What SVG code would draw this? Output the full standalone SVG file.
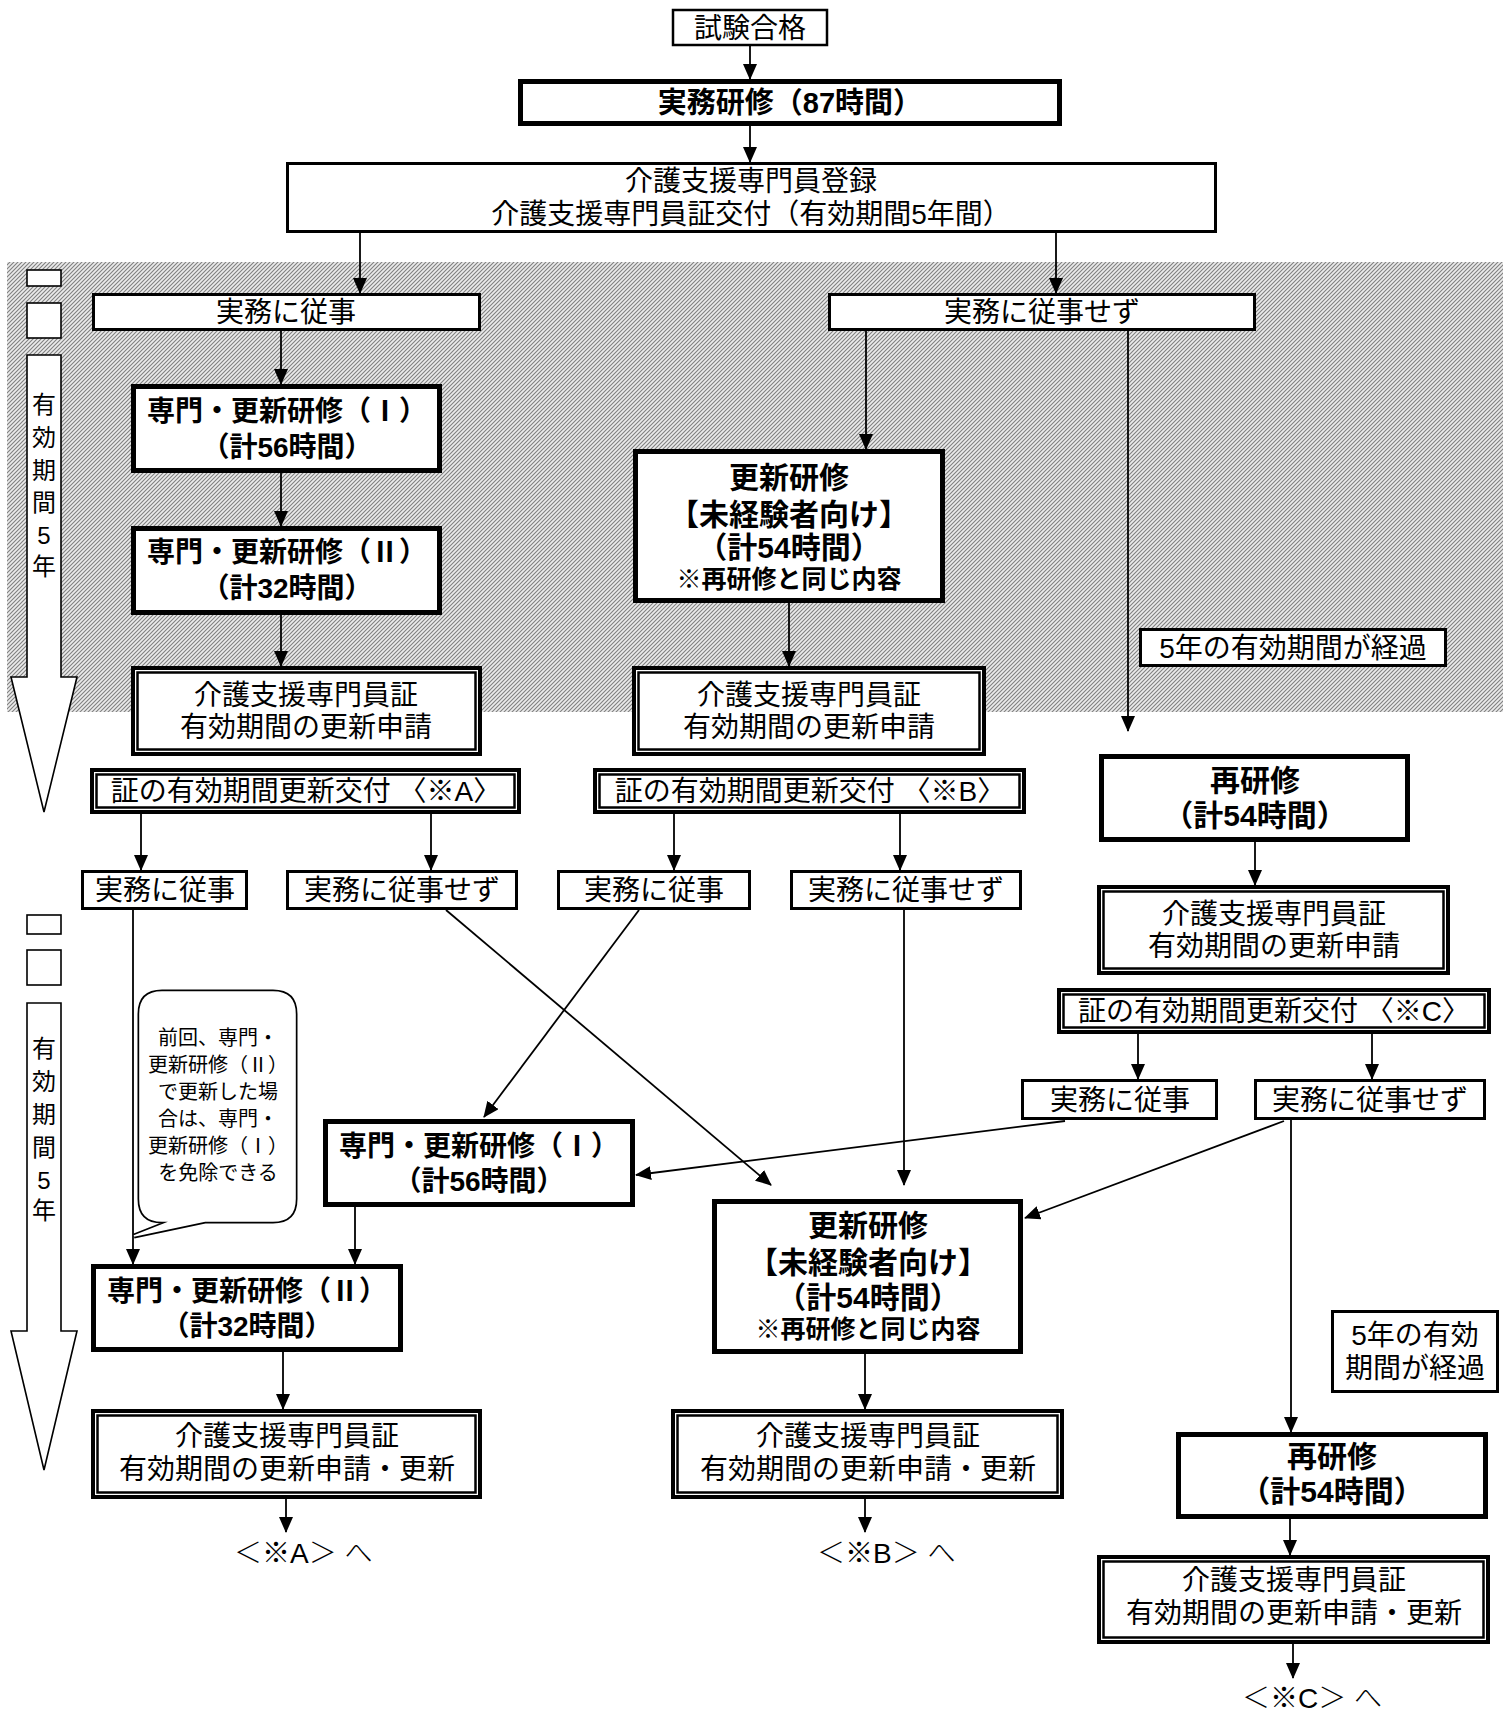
<svg xmlns="http://www.w3.org/2000/svg" width="1505" height="1713" viewBox="0 0 1505 1713">
<defs>
<pattern id="hatch" width="4" height="4" patternUnits="userSpaceOnUse">
<rect width="4" height="4" fill="#ebebeb"/>
<path d="M-1,1 L1,-1 M0,4 L4,0 M3,5 L5,3" stroke="#808080" stroke-width="1.1"/>
</pattern>
<marker id="ah" markerUnits="userSpaceOnUse" viewBox="0 0 16 14" markerWidth="16" markerHeight="14" refX="15" refY="7" orient="auto">
<path d="M0,0 L16,7 L0,14 z" fill="#000"/>
</marker>
<style>
.thin{fill:#fff;stroke:#000;stroke-width:3}
.thick{fill:#fff;stroke:#000;stroke-width:5}
.dblo{fill:#fff;stroke:#000;stroke-width:4}
.dbli{fill:none;stroke:#000;stroke-width:2.5}
.small{fill:#fff;stroke:#000;stroke-width:1.6}
text{font-family:"Liberation Sans","Noto Sans CJK JP",sans-serif;fill:#000}
.t{font-size:28px;text-anchor:middle}
.b{font-weight:bold}
.conn line{stroke:#000;stroke-width:1.8;marker-end:url(#ah)}
.vt{font-size:24px;text-anchor:middle}
.bt{font-size:20px;text-anchor:middle}
.lt{font-size:28px;font-weight:300}
.rn{font-family:"Noto Sans CJK JP",sans-serif}
</style>
</defs>
<rect width="1505" height="1713" fill="#fff"/>
<g id="period-band">
<rect x="7" y="262" width="1496" height="450" fill="url(#hatch)"/>
</g>
<g id="period-arrow-1">
<rect class="small" x="27" y="270" width="34" height="16"/>
<rect class="small" x="27" y="303" width="34" height="35"/>
<polygon points="27,355 61,355 61,677 77,677 44,812 11,677 27,677" fill="#fff" stroke="#000" stroke-width="1.6"/>
<text class="vt"><tspan x="44" y="413">有</tspan><tspan x="44" y="446">効</tspan><tspan x="44" y="479">期</tspan><tspan x="44" y="511">間</tspan><tspan x="44" y="544">5</tspan><tspan x="44" y="575">年</tspan></text>
</g>
<g id="period-arrow-2">
<rect class="small" x="27" y="915" width="34" height="19"/>
<rect class="small" x="27" y="950" width="34" height="35"/>
<polygon points="27,1003 61,1003 61,1331 77,1331 44,1470 11,1331 27,1331" fill="#fff" stroke="#000" stroke-width="1.6"/>
<text class="vt"><tspan x="44" y="1057">有</tspan><tspan x="44" y="1090">効</tspan><tspan x="44" y="1123">期</tspan><tspan x="44" y="1156">間</tspan><tspan x="44" y="1189">5</tspan><tspan x="44" y="1219">年</tspan></text>
</g>
<g id="connectors" class="conn">
<line x1="750" y1="46" x2="750" y2="79"/>
<line x1="750" y1="126" x2="750" y2="162"/>
<line x1="360" y1="233" x2="360" y2="293"/>
<line x1="1056" y1="233" x2="1056" y2="293"/>
<line x1="281" y1="331" x2="281" y2="384"/>
<line x1="281" y1="473" x2="281" y2="526"/>
<line x1="281" y1="615" x2="281" y2="666"/>
<line x1="866" y1="331" x2="866" y2="449"/>
<line x1="789" y1="603" x2="789" y2="666"/>
<line x1="1128" y1="331" x2="1128" y2="731"/>
<line x1="141" y1="814" x2="141" y2="870"/>
<line x1="431" y1="814" x2="431" y2="870"/>
<line x1="674" y1="814" x2="674" y2="870"/>
<line x1="900" y1="814" x2="900" y2="870"/>
<line x1="1255" y1="842" x2="1255" y2="885"/>
<line x1="1138" y1="1034" x2="1138" y2="1079"/>
<line x1="1372" y1="1034" x2="1372" y2="1079"/>
<line x1="133" y1="910" x2="133" y2="1264"/>
<line x1="446" y1="910" x2="771" y2="1185"/>
<line x1="639" y1="910" x2="484" y2="1117"/>
<line x1="904" y1="910" x2="904" y2="1185"/>
<line x1="1065" y1="1121" x2="636" y2="1175"/>
<line x1="1284" y1="1121" x2="1025" y2="1218"/>
<line x1="1291" y1="1120" x2="1291" y2="1432"/>
<line x1="355" y1="1207" x2="355" y2="1264"/>
<line x1="283" y1="1352" x2="283" y2="1409"/>
<line x1="286" y1="1499" x2="286" y2="1532"/>
<line x1="865" y1="1354" x2="865" y2="1409"/>
<line x1="865" y1="1499" x2="865" y2="1532"/>
<line x1="1290" y1="1519" x2="1290" y2="1555"/>
<line x1="1293" y1="1644" x2="1293" y2="1678"/>
</g>
<g id="n-pass">
<rect x="673" y="10" width="154" height="35" fill="#fff" stroke="#000" stroke-width="2.5"/>
<text class="t" x="750" y="38">試験合格</text>
</g>
<g id="n-practical-training">
<rect class="thick" x="520.5" y="81.5" width="539" height="42"/>
<text class="t b" x="790" y="113" style="font-size:29px">実務研修（87時間）</text>
</g>
<g id="n-registration">
<rect class="thin" x="287.5" y="163.5" width="928" height="68"/>
<text class="t" x="751" y="191">介護支援専門員登録</text>
<text class="t" x="751" y="224">介護支援専門員証交付（有効期間5年間）</text>
</g>
<g id="n-engaged-1">
<rect class="thin" x="93.5" y="294.5" width="386" height="35"/>
<text class="t" x="286" y="322">実務に従事</text>
</g>
<g id="n-not-engaged-1">
<rect class="thin" x="829.5" y="294.5" width="425" height="35"/>
<text class="t" x="1042" y="322">実務に従事せず</text>
</g>
<g id="n-senmon1-a">
<rect class="thick" x="133.5" y="386.5" width="306" height="84"/>
<text class="t b" x="287" y="421">専門・更新研修（<tspan class="rn">Ⅰ</tspan>）</text>
<text class="t b" x="287" y="457">（計56時間）</text>
</g>
<g id="n-senmon2-a">
<rect class="thick" x="133.5" y="528.5" width="306" height="84"/>
<text class="t b" x="287" y="562">専門・更新研修（<tspan class="rn">Ⅱ</tspan>）</text>
<text class="t b" x="287" y="598">（計32時間）</text>
</g>
<g id="n-apply-a">
<rect class="dblo" x="133" y="668" width="347" height="86"/>
<rect class="dbli" x="137.5" y="672.5" width="338" height="77"/>
<text class="t" x="306" y="705">介護支援専門員証</text>
<text class="t" x="306" y="737">有効期間の更新申請</text>
</g>
<g id="n-issue-a">
<rect class="dblo" x="92" y="770" width="427" height="42"/>
<rect class="dbli" x="96.5" y="774.5" width="418" height="33"/>
<text class="t" x="306" y="801">証の有効期間更新交付 〈※A〉</text>
</g>
<g id="n-engaged-a">
<rect class="thin" x="82.5" y="871.5" width="164" height="37"/>
<text class="t" x="165" y="900">実務に従事</text>
</g>
<g id="n-not-engaged-a">
<rect class="thin" x="287.5" y="871.5" width="229" height="37"/>
<text class="t" x="402" y="900">実務に従事せず</text>
</g>
<g id="n-koushin-b">
<rect class="thick" x="635.5" y="451.5" width="307" height="149"/>
<text class="t b" x="789" y="488" style="font-size:30px">更新研修</text>
<text class="t b" x="789" y="525" style="font-size:30px">【未経験者向け】</text>
<text class="t b" x="789" y="558" style="font-size:30px">（計54時間）</text>
<text class="t b" x="789" y="588" style="font-size:25px">※再研修と同じ内容</text>
</g>
<g id="n-apply-b">
<rect class="dblo" x="634" y="668" width="350" height="86"/>
<rect class="dbli" x="638.5" y="672.5" width="341" height="77"/>
<text class="t" x="809" y="705">介護支援専門員証</text>
<text class="t" x="809" y="737">有効期間の更新申請</text>
</g>
<g id="n-issue-b">
<rect class="dblo" x="595" y="770" width="429" height="42"/>
<rect class="dbli" x="599.5" y="774.5" width="420" height="33"/>
<text class="t" x="810" y="801">証の有効期間更新交付 〈※B〉</text>
</g>
<g id="n-engaged-b">
<rect class="thin" x="558.5" y="871.5" width="191" height="37"/>
<text class="t" x="654" y="900">実務に従事</text>
</g>
<g id="n-not-engaged-b">
<rect class="thin" x="791.5" y="871.5" width="229" height="37"/>
<text class="t" x="906" y="900">実務に従事せず</text>
</g>
<g id="n-expired-1">
<rect class="thin" x="1140.5" y="629.5" width="305" height="36"/>
<text class="t" x="1293" y="658">5年の有効期間が経過</text>
</g>
<g id="n-retraining-c">
<rect class="thick" x="1101.5" y="756.5" width="306" height="83"/>
<text class="t b" x="1255" y="791" style="font-size:30px">再研修</text>
<text class="t b" x="1255" y="826" style="font-size:30px">（計54時間）</text>
</g>
<g id="n-apply-c">
<rect class="dblo" x="1099" y="887" width="349" height="86"/>
<rect class="dbli" x="1103.5" y="891.5" width="340" height="77"/>
<text class="t" x="1274" y="924">介護支援専門員証</text>
<text class="t" x="1274" y="956">有効期間の更新申請</text>
</g>
<g id="n-issue-c">
<rect class="dblo" x="1059" y="990" width="430" height="42"/>
<rect class="dbli" x="1063.5" y="994.5" width="421" height="33"/>
<text class="t" x="1274" y="1021">証の有効期間更新交付 〈※C〉</text>
</g>
<g id="n-engaged-c">
<rect class="thin" x="1022.5" y="1080.5" width="194" height="38"/>
<text class="t" x="1120" y="1110">実務に従事</text>
</g>
<g id="n-not-engaged-c">
<rect class="thin" x="1255.5" y="1080.5" width="229" height="38"/>
<text class="t" x="1370" y="1110">実務に従事せず</text>
</g>
<g id="n-senmon1-2">
<rect class="thick" x="325.5" y="1121.5" width="307" height="83"/>
<text class="t b" x="479" y="1156">専門・更新研修（<tspan class="rn">Ⅰ</tspan>）</text>
<text class="t b" x="479" y="1191">（計56時間）</text>
</g>
<g id="n-koushin-2">
<rect class="thick" x="714.5" y="1201.5" width="306" height="150"/>
<text class="t b" x="868" y="1236" style="font-size:30px">更新研修</text>
<text class="t b" x="868" y="1273" style="font-size:30px">【未経験者向け】</text>
<text class="t b" x="868" y="1308" style="font-size:30px">（計54時間）</text>
<text class="t b" x="868" y="1338" style="font-size:25px">※再研修と同じ内容</text>
</g>
<g id="n-senmon2-2">
<rect class="thick" x="93.5" y="1266.5" width="307" height="83"/>
<text class="t b" x="247" y="1301">専門・更新研修（<tspan class="rn">Ⅱ</tspan>）</text>
<text class="t b" x="247" y="1336">（計32時間）</text>
</g>
<g id="n-note">
<path d="M162,992 L273,992 Q295,992 295,1014 L295,1199 Q295,1221 273,1221 L205,1221 L134,1236 L172,1221 L162,1221 Q140,1221 140,1199 L140,1014 Q140,992 162,992 Z" fill="#fff" stroke="#000" stroke-width="5" stroke-linejoin="miter"/>
<path d="M162,992 L273,992 Q295,992 295,1014 L295,1199 Q295,1221 273,1221 L205,1221 L134,1236 L172,1221 L162,1221 Q140,1221 140,1199 L140,1014 Q140,992 162,992 Z" fill="#fff" stroke="#fff" stroke-width="1.6"/>
<text class="bt" x="218" y="1045">前回、専門・</text>
<text class="bt" x="218" y="1072">更新研修（<tspan class="rn">Ⅱ</tspan>）</text>
<text class="bt" x="218" y="1099">で更新した場</text>
<text class="bt" x="218" y="1126">合は、専門・</text>
<text class="bt" x="218" y="1153">更新研修（<tspan class="rn">Ⅰ</tspan>）</text>
<text class="bt" x="218" y="1180">を免除できる</text>
</g>
<g id="n-expired-2">
<rect class="thin" x="1332.5" y="1311.5" width="165" height="80"/>
<text class="t" x="1415" y="1345">5年の有効</text>
<text class="t" x="1415" y="1378">期間が経過</text>
</g>
<g id="n-retraining-2">
<rect class="thick" x="1178.5" y="1434.5" width="307" height="82"/>
<text class="t b" x="1332" y="1467" style="font-size:30px">再研修</text>
<text class="t b" x="1332" y="1502" style="font-size:30px">（計54時間）</text>
</g>
<g id="n-renew-a">
<rect class="dblo" x="93" y="1411" width="387" height="86"/>
<rect class="dbli" x="97.5" y="1415.5" width="378" height="77"/>
<text class="t" x="287" y="1446">介護支援専門員証</text>
<text class="t" x="287" y="1479">有効期間の更新申請・更新</text>
</g>
<g id="n-renew-b">
<rect class="dblo" x="673" y="1411" width="389" height="86"/>
<rect class="dbli" x="677.5" y="1415.5" width="380" height="77"/>
<text class="t" x="868" y="1446">介護支援専門員証</text>
<text class="t" x="868" y="1479">有効期間の更新申請・更新</text>
</g>
<g id="n-renew-c">
<rect class="dblo" x="1099" y="1557" width="389" height="85"/>
<rect class="dbli" x="1103.5" y="1561.5" width="380" height="76"/>
<text class="t" x="1294" y="1590">介護支援専門員証</text>
<text class="t" x="1294" y="1623">有効期間の更新申請・更新</text>
</g>
<g id="n-to-a">
<text class="lt" x="234" y="1563">＜※A＞ へ</text>
</g>
<g id="n-to-b">
<text class="lt" x="817" y="1563">＜※B＞ へ</text>
</g>
<g id="n-to-c">
<text class="lt" x="1242" y="1708">＜※C＞ へ</text>
</g>
</svg>
